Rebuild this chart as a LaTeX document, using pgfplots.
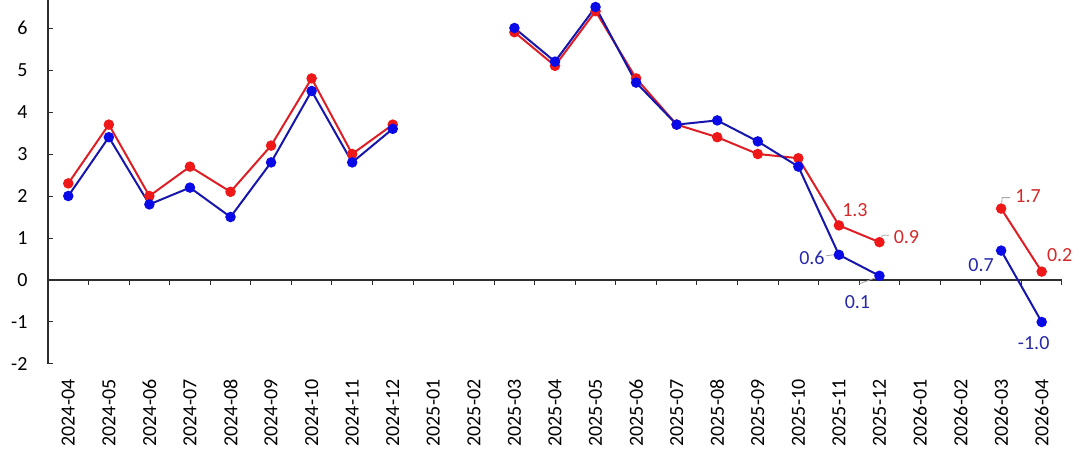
\documentclass[border=0pt]{standalone}
\usepackage{fontspec}
\setmainfont{Carlito}
\usepackage{pgfplots}
\pgfplotsset{compat=1.18}
\usepackage{pgfplotstable}

\definecolor{redline}{RGB}{222,30,36}
\definecolor{redmark}{RGB}{238,24,24}
\definecolor{blueline}{RGB}{22,22,172}
\definecolor{bluemark}{RGB}{10,10,230}
\definecolor{redlab}{RGB}{214,40,40}
\definecolor{bluelab}{RGB}{40,40,170}
\definecolor{axisgray}{RGB}{45,45,45}

\pgfplotstableread{
x red blue
0 2.3 2.0
1 3.7 3.4
2 2.0 1.8
3 2.7 2.2
4 2.1 1.5
5 3.2 2.8
6 4.8 4.5
7 3.0 2.8
8 3.7 3.6
9 nan nan
10 nan nan
11 5.9 6.0
12 5.1 5.2
13 6.4 6.5
14 4.8 4.7
15 3.7 3.7
16 3.4 3.8
17 3.0 3.3
18 2.9 2.7
19 1.3 0.6
20 0.9 0.1
21 nan nan
22 nan nan
23 1.7 0.7
24 0.2 -1.0
}\data

\begin{document}
\begin{tikzpicture}[font=\fontsize{20}{24}\selectfont]
\path[use as bounding box] (-48pt,-96pt) rectangle (1032pt,364pt);
\begin{axis}[
  at={(0pt,0pt)}, anchor=south west,
  scale only axis, width=1014pt, height=364pt,
  xmin=-0.5, xmax=24.5, ymin=-2, ymax=6.667,
  clip=false,
  axis x line*=bottom, axis y line*=left,
  x axis line style={draw=none},
  y axis line style={axisgray, line width=1.2pt},
  xtick={0,...,24},
  xticklabels={2024-04,2024-05,2024-06,2024-07,2024-08,2024-09,2024-10,2024-11,2024-12,2025-01,2025-02,2025-03,2025-04,2025-05,2025-06,2025-07,2025-08,2025-09,2025-10,2025-11,2025-12,2026-01,2026-02,2026-03,2026-04},
  xtick style={draw=none},
  xticklabel style={rotate=90, anchor=east, font=\fontsize{20}{24}\selectfont},
  xticklabel shift=12pt,
  ytick={-2,-1,0,1,2,3,4,5,6},
  yticklabels={-2,-1,0,1,2,3,4,5,6},
  yticklabel style={font=\fontsize{20}{24}\selectfont},
  tick align=inside,
  major tick length=5pt,
  ytick style={axisgray, line width=1pt},
  yticklabel shift=17pt,
  unbounded coords=jump,
]
\addplot[axisgray, line width=1.2pt, forget plot] coordinates {(-0.5,0) (24.5,0)};
\addplot[ycomb, no markers, axisgray, line width=1pt, forget plot] coordinates {
(0.5,-0.12) (1.5,-0.12) (2.5,-0.12) (3.5,-0.12) (4.5,-0.12) (5.5,-0.12) (6.5,-0.12)
(7.5,-0.12) (8.5,-0.12) (9.5,-0.12) (10.5,-0.12) (11.5,-0.12) (12.5,-0.12) (13.5,-0.12)
(14.5,-0.12) (15.5,-0.12) (16.5,-0.12) (17.5,-0.12) (18.5,-0.12) (19.5,-0.12) (20.5,-0.12)
(21.5,-0.12) (22.5,-0.12) (23.5,-0.12) (24.5,-0.12)};

% leader lines
\draw[gray!70, line width=0.8pt] ([shift={(2pt,5pt)}]axis cs:20,0.9) -- ([shift={(3pt,7pt)}]axis cs:20,0.9) -- ([shift={(10pt,7pt)}]axis cs:20,0.9);
\draw[gray!70, line width=0.8pt] ([shift={(0.5pt,5pt)}]axis cs:23,1.7) -- ([shift={(1pt,11pt)}]axis cs:23,1.7) -- ([shift={(9pt,11pt)}]axis cs:23,1.7);
\draw[gray!70, line width=0.8pt] ([shift={(-13pt,-1pt)}]axis cs:19,0.6) -- ([shift={(-5pt,0pt)}]axis cs:19,0.6);
\draw[gray!70, line width=0.8pt] ([shift={(-20pt,-8pt)}]axis cs:20,0.1) -- ([shift={(-4pt,-2pt)}]axis cs:20,0.1);

\addplot[redline, line width=2pt, mark=*, mark size=4.2pt, mark options={fill=redmark, draw=redmark}] table[x=x, y=red]{\data};
\addplot[blueline, line width=2pt, mark=*, mark size=4.2pt, mark options={fill=bluemark, draw=bluemark}] table[x=x, y=blue]{\data};

% data labels
\node[text=redlab] at ([shift={(16pt,15pt)}]axis cs:19,1.3) {1.3};
\node[text=redlab] at ([shift={(27pt,5pt)}]axis cs:20,0.9) {0.9};
\node[text=redlab] at ([shift={(27pt,12pt)}]axis cs:23,1.7) {1.7};
\node[text=redlab] at ([shift={(18pt,17pt)}]axis cs:24,0.2) {0.2};
\node[text=bluelab] at ([shift={(-27pt,-3pt)}]axis cs:19,0.6) {0.6};
\node[text=bluelab] at ([shift={(-22pt,-26pt)}]axis cs:20,0.1) {0.1};
\node[text=bluelab] at ([shift={(-20pt,-14pt)}]axis cs:23,0.7) {0.7};
\node[text=bluelab] at ([shift={(-8pt,-21pt)}]axis cs:24,-1.0) {-1.0};
\end{axis}
\end{tikzpicture}
\end{document}
